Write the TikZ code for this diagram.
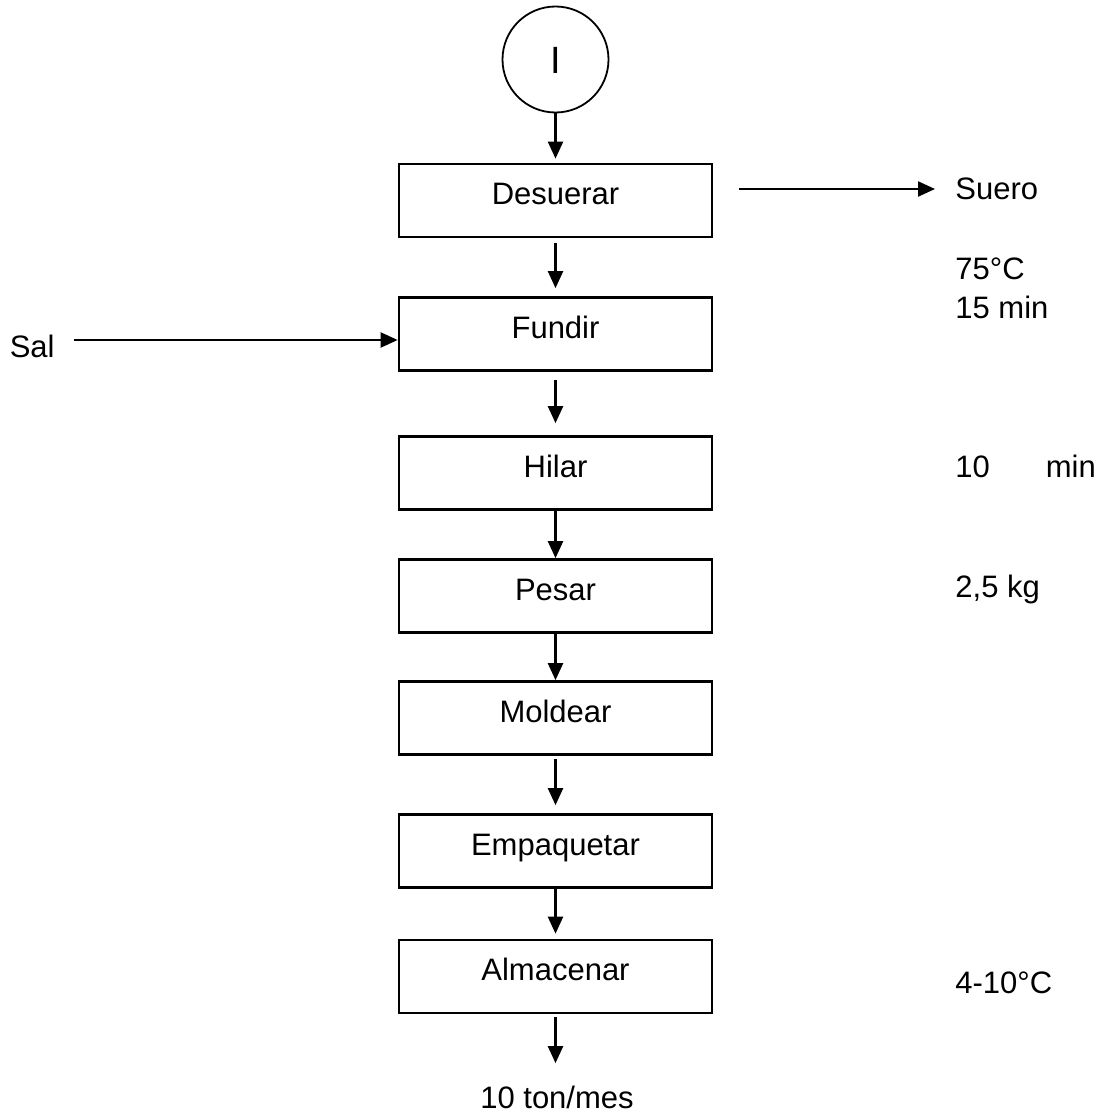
\documentclass[tikz,border=0pt]{standalone}
\usepackage{fontspec}
\setmainfont{Liberation Sans}
\usetikzlibrary{arrows.meta}

\tikzset{
  etapa/.style={draw, line width=1.35pt, minimum width=156.5pt, minimum height=36.5pt, inner sep=0pt, text height=5pt, text depth=1pt},
  flujo/.style={line width=1.1pt, -{Triangle[length=8.5pt,width=7.5pt]}},
  dato/.style={anchor=base west, inner sep=0pt, align=left},
}

\begin{document}
\begin{tikzpicture}[x=0.5pt, y=-0.5pt, font=\fontsize{15.5}{19.5}\selectfont]
  \useasboundingbox (0,0) rectangle (1117,1113);
  % inicio
  \node[draw, circle, line width=0.9pt, minimum size=53pt, inner sep=0pt, text height=14pt, text depth=-3pt, font=\fontsize{19}{20}\selectfont] (inicio) at (555.5,59.5) {I};
  % etapas del proceso
  \node[etapa] (desuerar) at (555.5,200.5) {Desuerar};
  \node[etapa] (fundir) at (555.5,334) {Fundir};
  \node[etapa] (hilar) at (555.5,473) {Hilar};
  \node[etapa] (pesar) at (555.5,596) {Pesar};
  \node[etapa] (moldear) at (555.5,718) {Moldear};
  \node[etapa] (empaquetar) at (555.5,851) {Empaquetar};
  \node[etapa] (almacenar) at (555.5,976.5) {Almacenar};
  \node[anchor=base, inner sep=0pt] (salida) at (557,1108) {10 ton/mes};
  % entradas, salidas y condiciones
  \node[dato] (suero) at (955,199) {Suero};
  \node[dato, anchor=base east] (sal) at (55,357) {Sal};
  \node[dato] (cond1) at (955,318) {75°C\\15 min};
  \node[dato] (cond2) at (955,477) {10\hspace{28pt}min};
  \node[dato] (cond3) at (955,597) {2,5 kg};
  \node[dato] (cond4) at (955,993) {4-10°C};
  % flechas
  \draw[flujo, shorten >=2pt] (inicio) -- (desuerar);
  \draw[flujo, shorten <=2.5pt, shorten >=4pt] (desuerar) -- (fundir);
  \draw[flujo, shorten <=4pt, shorten >=6pt] (fundir) -- (hilar);
  \draw[flujo] (hilar) -- (pesar);
  \draw[flujo] (pesar) -- (moldear);
  \draw[flujo, shorten <=1.5pt, shorten >=4pt] (moldear) -- (empaquetar);
  \draw[flujo, shorten >=2.5pt] (empaquetar) -- (almacenar);
  \draw[flujo, shorten <=1.5pt, shorten >=11pt] (almacenar.south) -- (almacenar.south |- salida.north);
  \draw[flujo, shorten <=13pt, shorten >=10pt] ([yshift=5pt]suero.base west -| desuerar.east) -- ([yshift=5pt]suero.base west);
  \draw[flujo, shorten <=9.5pt] ([yshift=8.5pt]sal.base east) -- ([yshift=8.5pt]sal.base east -| fundir.west);
\end{tikzpicture}
\end{document}
